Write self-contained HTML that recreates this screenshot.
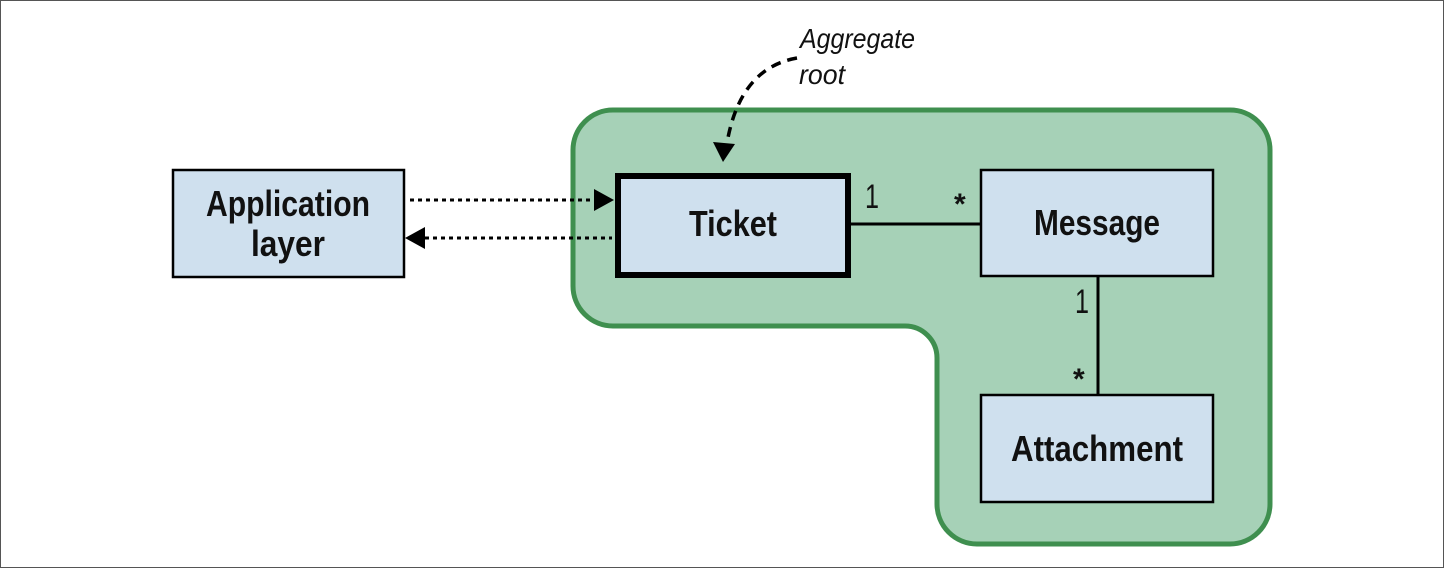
<!DOCTYPE html>
<html><head><style>html,body{margin:0;padding:0;background:#fff}svg{display:block}</style></head>
<body>
<svg width="1444" height="572" viewBox="0 0 1444 572" xmlns="http://www.w3.org/2000/svg">
<rect x="0.5" y="0.5" width="1443" height="567" fill="#fff" stroke="#555" stroke-width="1"/>
<path d="M613,110 H1230 A40,40 0 0 1 1270,150 V504 A40,40 0 0 1 1230,544 H977 A40,40 0 0 1 937,504 V358 A32,32 0 0 0 905,326 H613 A40,40 0 0 1 573,286 V150 A40,40 0 0 1 613,110 Z" fill="#a6d1b7" stroke="#3f8f4f" stroke-width="5"/>
<g fill="#cfe0ee" stroke="#000">
<rect x="173" y="170" width="231" height="107" stroke-width="2.5"/>
<rect x="618" y="176" width="230" height="99" stroke-width="6"/>
<rect x="981" y="170" width="232" height="106" stroke-width="2.5"/>
<rect x="981" y="395" width="232" height="107" stroke-width="2.5"/>
</g>
<g stroke="#000" stroke-width="3" fill="none">
<line x1="851" y1="224" x2="981" y2="224"/>
<line x1="1098" y1="276" x2="1098" y2="395"/>
<line x1="410" y1="200" x2="597" y2="200" stroke-dasharray="4,4"/>
<line x1="425" y1="238" x2="612" y2="238" stroke-dasharray="4,4"/>
<path d="M797,58 Q740,68 727,143" stroke-dasharray="10,7" stroke-width="3.5"/>
</g>
<g fill="#000">
<polygon points="614,200 594,189 594,211"/>
<polygon points="405,238 425,227 425,249"/>
<polygon points="723,162 713,142 735,144"/>
</g>
<g font-family="'Liberation Sans',sans-serif" font-weight="bold" font-size="36" text-anchor="middle" fill="#111">
<text x="288" y="216" textLength="164" lengthAdjust="spacingAndGlyphs">Application</text>
<text x="288" y="256" textLength="74" lengthAdjust="spacingAndGlyphs">layer</text>
<text x="733" y="236" textLength="88" lengthAdjust="spacingAndGlyphs">Ticket</text>
<text x="1097" y="235" textLength="126" lengthAdjust="spacingAndGlyphs">Message</text>
<text x="1097" y="461" textLength="172" lengthAdjust="spacingAndGlyphs">Attachment</text>
</g>
<g font-family="'Liberation Sans',sans-serif" font-size="34" fill="#111">
<text x="865" y="208" textLength="14" lengthAdjust="spacingAndGlyphs">1</text>
<text x="1075" y="313" textLength="14" lengthAdjust="spacingAndGlyphs">1</text>
<text x="954" y="214" font-weight="bold" font-size="30">*</text>
<text x="1073" y="389" font-weight="bold" font-size="30">*</text>
</g>
<g font-family="'Liberation Sans',sans-serif" font-style="italic" font-size="28" fill="#111">
<text x="800" y="48" textLength="115" lengthAdjust="spacingAndGlyphs">Aggregate</text>
<text x="799" y="84" textLength="46" lengthAdjust="spacingAndGlyphs">root</text>
</g>
</svg>
</body></html>
